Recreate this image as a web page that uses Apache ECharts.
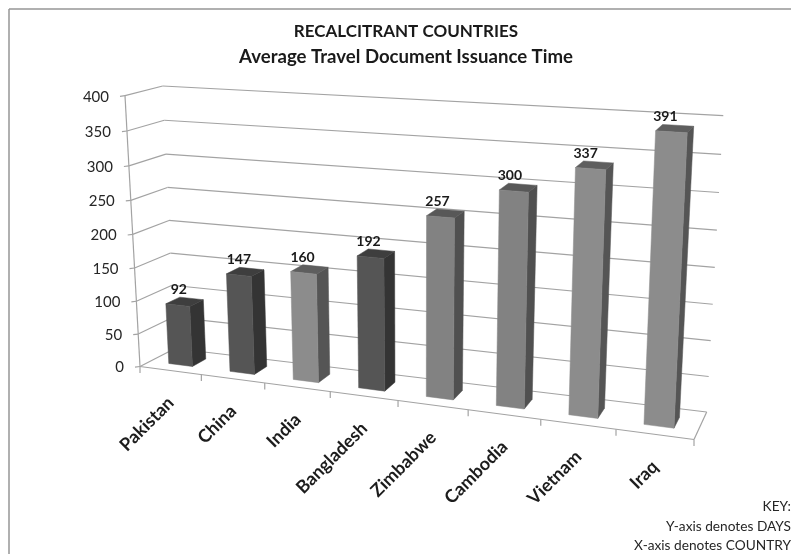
<!DOCTYPE html>
<html>
<head>
<meta charset="utf-8">
<style>
  html, body { margin: 0; padding: 0; background: #fff; }
  #chart { width: 791px; height: 554px; }
</style>
<script src="https://cdn.jsdelivr.net/npm/echarts@6/dist/echarts.min.js"></script>
</head>
<body>
<div id="chart"></div>
<script>
const countries = ['Pakistan', 'China', 'India', 'Bangladesh', 'Zimbabwe', 'Cambodia', 'Vietnam', 'Iraq'];
const issuanceDays = [92, 147, 160, 192, 257, 300, 337, 391];
const yTicks = [0, 50, 100, 150, 200, 250, 300, 350, 400];
const keyLines = ['KEY:', 'Y-axis denotes DAYS', 'X-axis denotes COUNTRY'];
// 0 = dark bar, 1 = mid-grey bar, 2 = light bar
const barTone = [0, 0, 2, 0, 1, 1, 2, 2];

const tones = [
  { front: '#555555', side: '#343434', top: '#3e3e3e' },
  { front: '#828282', side: '#505050', top: '#585858' },
  { front: '#8c8c8c', side: '#555555', top: '#5e5e5e' }
];

const W = 791, H = 554;
const FONT = 'Lato, Carlito, "Noto Sans", sans-serif';

// Corners of the chart box on screen: [u, height, depth]
const box = {
  '000': [140, 366.5], '100': [694, 439.5], '001': [175, 348.5], '101': [706.7, 412],
  '010': [125, 95.7],  '110': [708, 132],   '011': [162.7, 86],  '111': [723.3, 115.7]
};
const warp = (t, r) => t / (t + (1 - t) * r);

// Projects normalised box coordinates to the screen with a perspective falloff.
function project(t, v, z) {
  const u = warp(t, 1.147), h = warp(v, 1.05);
  const out = [0, 1].map(k => {
    let sum = 0;
    for (const a of [0, 1]) for (const b of [0, 1]) for (const c of [0, 1]) {
      sum += (a ? u : 1 - u) * (b ? h : 1 - h) * (c ? z : 1 - z) * box['' + a + b + c][k];
    }
    return sum;
  });
  return out;
}

const BAR_FRAC = 0.39, Z_FRONT = 0.3, Z_BACK = 0.7;
const lineStyle = { stroke: '#a3a3a3', lineWidth: 1.2, fill: null };
const seg = (a, b, style) => ({
  type: 'line',
  shape: { x1: a[0], y1: a[1], x2: b[0], y2: b[1] },
  style: style || lineStyle
});

// Value gridlines on the side and back walls, with the value labels beside them.
function renderGrid(params, api) {
  const c = api.coord([0, api.value(1)]);
  const v = 1 - c[1] / H;
  const front = project(0, v, 0), back = project(0, v, 1), right = project(1, v, 1);
  const tickEnd = [front[0] - 5, front[1] + 0.6];
  return {
    type: 'group',
    children: [
      seg(front, back), seg(back, right), seg(front, tickEnd),
      {
        type: 'text',
        style: {
          x: front[0] - 16, y: front[1] + 1,
          text: String(api.value(1)),
          font: '15px ' + FONT, fill: '#262626',
          textAlign: 'right', textVerticalAlign: 'middle'
        }
      }
    ]
  };
}

// Floor frame, category ticks and the slanted country labels.
function renderFloor(params, api) {
  const i = api.value(0);
  const band = api.size([1, 0])[0] / W;
  const mid = api.coord([i, 0])[0] / W;
  const left = mid - band / 2;
  const tickTop = project(left, 0, 0);
  const children = [seg(tickTop, [tickTop[0], tickTop[1] + 6.5])];
  const labelAt = project(mid, 0, 0);
  children.push({
    type: 'text',
    x: labelAt[0] + 0.5, y: labelAt[1] + 29.5,
    rotation: Math.PI / 4,
    style: {
      x: 0, y: 0, text: countries[i],
      font: 'bold 18px ' + FONT, fill: '#1c1c1c',
      textAlign: 'right', textVerticalAlign: 'middle'
    }
  });
  if (i === countries.length - 1) {
    const e = project(1, 0, 0);
    children.push(seg(e, [e[0], e[1] + 6.5]));
    children.push(seg(project(0, 0, 0), project(1, 0, 0)));
    children.push(seg(project(1, 0, 0), project(1, 0, 1)));
    children.push(seg(project(0, 0, 0), project(0, 1, 0)));
  }
  return { type: 'group', children };
}

// One solid bar: front, right side and top faces plus its value label.
function renderBar(params, api) {
  const i = api.value(0), val = api.value(1);
  const band = api.size([1, 0])[0] / W;
  const mid = api.coord([i, 0])[0] / W;
  const v = 1 - api.coord([i, val])[1] / H;
  const l = mid - band * BAR_FRAC / 2, r = mid + band * BAR_FRAC / 2;
  const tone = tones[barTone[i]];
  const poly = (pts, fill) => ({
    type: 'polygon', shape: { points: pts }, style: { fill, stroke: fill, lineWidth: 0.5 }
  });
  const fbl = project(l, 0, Z_FRONT), fbr = project(r, 0, Z_FRONT);
  const ftl = project(l, v, Z_FRONT), ftr = project(r, v, Z_FRONT);
  const bbr = project(r, 0, Z_BACK), btr = project(r, v, Z_BACK), btl = project(l, v, Z_BACK);
  const anchor = [(ftl[0] + ftr[0]) / 2, (ftl[1] + ftr[1]) / 2];
  return {
    type: 'group',
    children: [
      poly([fbr, bbr, btr, ftr], tone.side),
      poly([ftl, ftr, btr, btl], tone.top),
      poly([fbl, fbr, ftr, ftl], tone.front),
      {
        type: 'text',
        style: {
          x: anchor[0] + 1.5 - 8 * mid, y: anchor[1] - 15.5,
          text: String(val),
          font: 'bold 14px ' + FONT, fill: '#1a1a1a',
          textAlign: 'center', textVerticalAlign: 'middle'
        }
      }
    ]
  };
}

const keyGraphics = keyLines.map((line, i) => ({
  type: 'text',
  right: 0,
  top: [500, 520, 539][i],
  style: { text: line, font: '13.7px ' + FONT, fill: '#262626', textAlign: 'right' }
}));

const frameStyle = { stroke: '#969696', lineWidth: 1.5 };
const chart = echarts.init(document.getElementById('chart'), null, { width: W, height: H });
chart.setOption({
  animation: false,
  backgroundColor: '#ffffff',
  title: {
    text: '{a|RECALCITRANT COUNTRIES}\n{b|Average Travel Document Issuance Time}',
    left: 401, top: 14, textAlign: 'center',
    textStyle: {
      rich: {
        a: { fontFamily: FONT, fontSize: 17, fontWeight: 'bold', color: '#1a1a1a', lineHeight: 25, align: 'center' },
        b: { fontFamily: FONT, fontSize: 18.6, fontWeight: 'bold', color: '#1a1a1a', lineHeight: 25, align: 'center' }
      }
    }
  },
  grid: { left: 0, right: 0, top: 0, bottom: 0, containLabel: false },
  xAxis: { type: 'category', data: countries, show: false },
  yAxis: { type: 'value', min: 0, max: 400, interval: 50, show: false },
  graphic: [
    { type: 'line', shape: { x1: 9, y1: 9, x2: W, y2: 9 }, style: frameStyle },
    { type: 'line', shape: { x1: 9, y1: 9, x2: 9, y2: H }, style: frameStyle },
    ...keyGraphics
  ],
  series: [
    { type: 'custom', renderItem: renderGrid, data: yTicks.map(t => [0, t]), clip: false, silent: true, z: 1 },
    { type: 'custom', renderItem: renderFloor, data: countries.map((c, i) => [i, 0]), clip: false, silent: true, z: 2 },
    { type: 'custom', renderItem: renderBar, data: issuanceDays.map((d, i) => [i, d]), clip: false, silent: true, z: 3 }
  ]
});
</script>
</body>
</html>
